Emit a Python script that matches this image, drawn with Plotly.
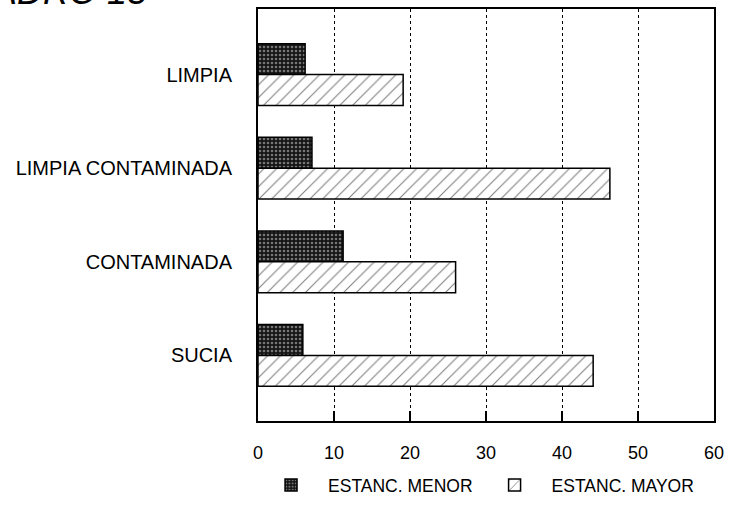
import plotly.graph_objects as go

categories = ["LIMPIA", "LIMPIA CONTAMINADA", "CONTAMINADA", "SUCIA"]
estanc_menor = [6.2, 7.1, 11.2, 5.9]
estanc_mayor = [19.1, 46.3, 26.0, 44.1]
x_ticks = [0, 10, 20, 30, 40, 50, 60]

FONT = "Liberation Sans, Arial, sans-serif"

fig = go.Figure()
fig.add_trace(go.Bar(
    y=categories, x=estanc_menor, orientation="h", name="ESTANC. MENOR",
    width=0.33, offset=0.0,
    marker=dict(color="#151515", line=dict(color="black", width=1.5),
                pattern=dict(shape=".", fgcolor="#d8d8d8", bgcolor="#151515",
                             size=4, solidity=0.35, fillmode="overlay")),
))
fig.add_trace(go.Bar(
    y=categories, x=estanc_mayor, orientation="h", name="ESTANC. MAYOR",
    width=0.33, offset=-0.33,
    marker=dict(color="white", line=dict(color="black", width=1.5),
                pattern=dict(shape="/", fgcolor="black", bgcolor="white",
                             size=9, solidity=0.12, fillmode="overlay")),
))

fig.update_layout(
    width=731, height=510,
    barmode="overlay",
    plot_bgcolor="white", paper_bgcolor="white",
    margin=dict(l=258, r=14, t=7, b=87),
    font=dict(family=FONT, size=18, color="black"),
    showlegend=True,
    legend=dict(orientation="h", x=-0.0087, xanchor="left", y=-0.1995, yanchor="bottom",
                font=dict(size=17.5), itemwidth=64, traceorder="normal"),
    annotations=[dict(text="<i>CUADRO 15</i>", xref="paper", yref="paper",
                      x=0, y=1, xanchor="right", yanchor="bottom",
                      xshift=-108, yshift=-5, showarrow=False,
                      font=dict(family=FONT, size=36, color="black"))],
)
fig.update_xaxes(
    range=[0, 60], tickvals=x_ticks, ticktext=[str(v) for v in x_ticks],
    ticks="inside", ticklen=10, tickwidth=2, tickcolor="black",
    showline=True, linecolor="black", linewidth=2, mirror=True,
    showgrid=True, gridcolor="black", gridwidth=1, griddash="dot",
    zeroline=False, ticklabelstandoff=14, tickfont=dict(size=18),
)
fig.update_yaxes(
    type="category", categoryorder="array", categoryarray=categories[::-1],
    range=[-0.7, 3.7], ticks="", showgrid=False,
    showline=True, linecolor="black", linewidth=2, mirror=True,
    ticklabelstandoff=20, tickfont=dict(size=20),
)

fig.write_html("out.html", config={"displayModeBar": False},
               post_script="document.body.style.margin='0';document.body.style.overflow='hidden';")
